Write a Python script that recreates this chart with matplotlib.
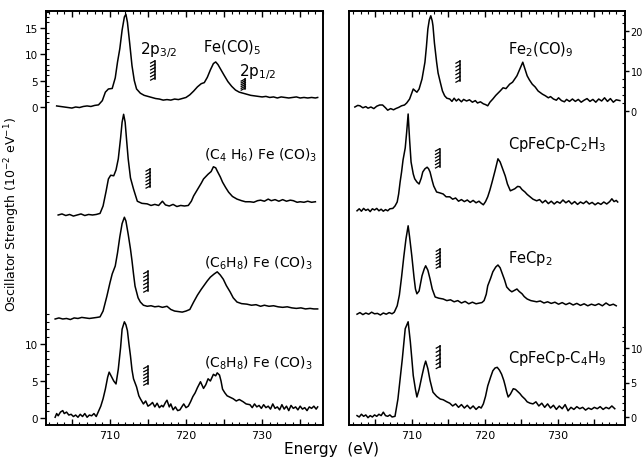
import numpy as np
import matplotlib
matplotlib.use("Agg")
import matplotlib.pyplot as plt

plt.rcParams['font.family'] = ['DejaVu Sans']
plt.rcParams['mathtext.default'] = 'regular'

# ---- spectra (energy in eV, oscillator strength in 1e-2/eV)
feco5_e = [703.0, 703.5, 704.0, 704.5, 705.0, 705.5, 706.0, 706.5, 707.0, 707.5, 708.0, 708.5, 709.0, 709.4,
           709.8, 710.3, 710.7, 711.0, 711.3, 711.6, 711.9, 712.1, 712.3, 712.6, 712.9, 713.2, 713.5, 714.0,
           714.5, 715.0, 715.5, 716.0, 716.5, 717.0, 717.5, 718.0, 718.5, 719.0, 719.5, 720.0, 720.5, 721.0,
           721.5, 722.0, 722.4, 722.8, 723.2, 723.6, 723.9, 724.2, 724.6, 725.0, 725.5, 726.0, 726.5, 727.0,
           727.5, 728.0, 728.5, 729.0, 729.5, 730.0, 730.5, 731.0, 731.5, 732.0, 732.5, 733.0, 733.5, 734.0,
           734.5, 735.0, 735.5, 736.0, 736.5, 737.0, 737.3]
feco5_v = [0.2, 0.1, 0.0, -0.1, -0.2, 0.0, -0.1, 0.1, 0.2, 0.1, 0.3, 0.4, 1.2, 2.8,
           3.4, 3.5, 5.5, 8.5, 11.0, 14.5, 17.0, 17.5, 16.0, 12.0, 7.8, 5.0, 3.4, 2.6,
           2.2, 2.0, 1.8, 1.6, 1.5, 1.3, 1.4, 1.3, 1.5, 1.4, 1.6, 1.8, 2.3, 3.0,
           3.8, 4.4, 4.6, 5.6, 7.0, 8.2, 8.5, 8.0, 7.0, 6.0, 4.8, 3.9, 3.2, 2.8,
           2.6, 2.4, 2.2, 2.1, 2.0, 1.9, 2.0, 1.8, 1.9, 1.7, 1.9, 1.8, 1.7, 1.8,
           1.9, 1.7, 1.8, 1.7, 1.8, 1.7, 1.8]

c4h6_e = [703.2, 703.7, 704.2, 704.7, 705.2, 705.7, 706.2, 706.7, 707.2, 707.7, 708.2, 708.7, 709.1, 709.5,
          709.8, 710.1, 710.5, 710.8, 711.1, 711.4, 711.6, 711.8, 712.0, 712.2, 712.4, 712.7, 713.1, 713.6,
          714.2, 714.9, 715.4, 715.9, 716.4, 716.9, 717.3, 717.8, 718.3, 718.8, 719.3, 719.8, 720.3, 720.7,
          721.0, 721.5, 722.0, 722.3, 722.9, 723.3, 723.6, 723.9, 724.1, 724.5, 724.8, 725.2, 725.6, 726.1,
          726.7, 727.3, 727.8, 728.4, 728.9, 729.4, 729.8, 730.3, 730.8, 731.2, 731.7, 732.2, 732.7, 733.2,
          733.7, 734.1, 734.6, 735.0, 735.5, 736.0, 736.5, 737.0]
c4h6_v = [0.0, 0.2, -0.1, 0.1, -0.2, 0.0, 0.2, -0.1, 0.1, 0.0, 0.1, 0.3, 1.7, 4.5,
          6.8, 7.5, 7.4, 8.5, 10.6, 14.5, 17.5, 19.0, 17.5, 14.0, 10.6, 7.0, 4.9, 2.6,
          2.2, 2.1, 1.8, 2.0, 1.8, 2.6, 1.9, 1.7, 2.0, 1.6, 1.8, 1.7, 1.8, 2.6,
          3.6, 4.8, 6.0, 6.8, 7.7, 8.2, 9.1, 8.9, 8.3, 7.2, 6.2, 5.2, 4.3, 3.5,
          3.0, 2.7, 2.5, 2.5, 2.4, 2.7, 2.8, 2.6, 3.0, 2.7, 2.9, 2.6, 2.9, 2.6,
          2.8, 2.7, 2.4, 2.5, 2.4, 2.6, 2.4, 2.5]

c6h8_e = [702.8, 703.3, 703.8, 704.3, 704.8, 705.3, 705.8, 706.3, 706.8, 707.3, 707.8, 708.3, 708.7, 709.1,
          709.6, 710.0, 710.3, 710.7, 711.0, 711.3, 711.6, 711.9, 712.1, 712.4, 712.7, 712.9, 713.1, 713.3,
          713.7, 714.0, 714.4, 714.9, 715.4, 715.9, 716.4, 716.9, 717.5, 718.0, 718.5, 719.0, 719.5, 720.0,
          720.5, 721.0, 721.5, 722.0, 722.3, 722.8, 723.2, 723.7, 724.1, 724.5, 724.9, 725.3, 725.8, 726.2,
          726.7, 727.3, 728.0, 728.6, 729.2, 729.8, 730.3, 730.9, 731.5, 732.1, 732.7, 733.3, 733.9, 734.5,
          735.1, 735.7, 736.3, 736.8, 737.3]
c6h8_v = [0.0, 0.2, 0.0, 0.1, -0.1, 0.2, 0.1, 0.3, 0.2, 0.1, 0.2, 0.3, 0.4, 1.5,
          4.3, 6.8, 8.5, 10.0, 12.5, 15.5, 18.0, 19.2, 18.5, 16.0, 13.2, 11.0, 8.5, 6.2,
          4.0, 3.2, 2.6, 2.4, 2.5, 2.3, 2.4, 2.2, 2.4, 1.8, 1.5, 1.4, 1.3, 1.5,
          1.8, 3.2, 4.5, 5.6, 6.2, 7.2, 7.9, 8.5, 8.9, 8.3, 7.5, 6.3, 5.1, 4.0,
          3.2, 2.9, 2.8, 2.6, 2.7, 2.4, 2.6, 2.4, 2.5, 2.3, 2.2, 2.3, 2.1, 2.0,
          2.1, 1.9, 2.0, 1.9, 1.9]

c8h8_e = [702.8, 703.0, 703.2, 703.5, 703.8, 704.0, 704.3, 704.6, 704.9, 705.2, 705.5, 705.8, 706.1, 706.4,
          706.7, 707.0, 707.3, 707.6, 707.9, 708.2, 708.5, 708.8, 709.1, 709.4, 709.7, 709.9, 710.2, 710.5,
          710.8, 711.1, 711.4, 711.6, 711.9, 712.1, 712.3, 712.5, 712.7, 712.9, 713.1, 713.5, 713.8, 714.0,
          714.4, 714.7, 715.0, 715.3, 715.6, 715.9, 716.2, 716.5, 716.8, 717.0, 717.3, 717.5, 717.8, 718.0,
          718.3, 718.6, 718.9, 719.2, 719.5, 719.7, 720.0, 720.3, 720.6, 720.9, 721.2, 721.5, 721.9, 722.3,
          722.6, 722.9, 723.2, 723.6, 723.9, 724.1, 724.4, 724.6, 724.8, 725.1, 725.4, 725.8, 726.2, 726.6,
          727.0, 727.5, 727.9, 728.4, 728.7, 729.0, 729.3, 729.6, 729.9, 730.2, 730.5, 730.8, 731.1, 731.4,
          731.7, 732.0, 732.3, 732.6, 732.9, 733.2, 733.5, 733.8, 734.1, 734.4, 734.7, 735.0, 735.3, 735.6,
          735.9, 736.2, 736.5, 736.8, 737.1, 737.3]
c8h8_v = [0.1, 0.6, 0.3, 0.8, 1.0, 0.6, 0.8, 0.4, 0.5, 0.2, 0.4, 0.1, 0.5, 0.2,
          0.6, 0.1, 0.4, 0.3, 0.6, 0.2, 0.9, 1.6, 2.6, 3.9, 5.5, 6.2, 5.6, 5.0,
          4.6, 6.6, 9.5, 12.0, 13.0, 12.6, 11.8, 10.0, 8.4, 6.5, 5.3, 4.2, 3.0, 2.6,
          1.9, 2.3, 1.6, 1.8, 2.1, 1.5, 2.0, 1.4, 1.7, 1.5, 2.1, 2.4, 1.5, 1.9,
          1.1, 1.5, 1.0, 1.1, 1.6, 1.9, 1.4, 1.6, 2.2, 2.9, 3.4, 4.1, 4.9, 4.0,
          4.5, 5.3, 5.0, 5.9, 5.7, 6.1, 5.8, 5.0, 3.9, 3.4, 3.0, 2.8, 2.6, 2.3,
          2.5, 2.2, 1.9, 1.8, 1.4, 1.9, 1.5, 1.7, 1.3, 1.8, 1.4, 1.6, 1.2, 1.9,
          1.3, 1.5, 1.1, 1.8, 1.2, 1.6, 1.0, 1.7, 1.3, 1.5, 1.1, 1.6, 1.2, 1.4,
          1.0, 1.5, 1.3, 1.6, 1.2, 1.5]

fe2co9_e = [702.2, 702.6, 702.9, 703.3, 703.7, 704.0, 704.4, 704.8, 705.2, 705.6, 706.0, 706.4, 706.7, 707.1,
            707.5, 707.8, 708.2, 708.6, 709.0, 709.3, 709.7, 710.0, 710.2, 710.5, 710.7, 711.0, 711.4, 711.8,
            712.0, 712.2, 712.4, 712.6, 712.8, 712.9, 713.1, 713.4, 713.6, 713.9, 714.2, 714.5, 714.8, 715.2,
            715.5, 715.8, 716.1, 716.4, 716.8, 717.1, 717.5, 717.9, 718.3, 718.7, 719.0, 719.4, 719.8, 720.1,
            720.4, 720.7, 721.1, 721.5, 722.1, 722.5, 722.9, 723.4, 723.8, 724.1, 724.4, 724.8, 725.2, 725.5,
            725.8, 726.1, 726.5, 726.9, 727.3, 727.6, 727.9, 728.3, 728.7, 729.0, 729.4, 729.8, 730.1, 730.5,
            730.9, 731.2, 731.6, 732.0, 732.4, 732.8, 733.2, 733.6, 734.0, 734.4, 734.8, 735.2, 735.6, 736.0,
            736.4, 736.8, 737.2, 737.6, 738.0, 738.5]
fe2co9_v = [1.0, 1.4, 1.3, 0.8, 1.1, 0.7, 1.0, 0.6, 1.2, 1.5, 1.5, 0.8, 0.2, 0.6,
            0.3, 0.6, 0.9, 1.3, 1.5, 2.0, 3.0, 4.5, 5.5, 5.0, 4.7, 5.5, 8.0, 12.2,
            16.0, 20.5, 22.8, 23.8, 22.5, 21.3, 17.0, 12.2, 9.5, 7.2, 5.0, 3.8, 3.2, 3.0,
            2.4, 3.2, 2.5, 3.0, 2.3, 2.9, 2.5, 2.8, 2.2, 2.6, 2.0, 2.3, 1.8, 1.6,
            1.3, 2.2, 3.0, 3.9, 5.0, 5.8, 5.6, 6.7, 7.2, 8.0, 8.8, 10.5, 12.2, 10.5,
            8.8, 7.8, 6.7, 6.0, 5.0, 4.6, 4.2, 3.8, 3.3, 3.6, 3.0, 2.7, 3.3, 2.6,
            2.3, 2.9, 2.4, 3.0, 2.4, 2.9, 2.2, 2.7, 3.1, 2.4, 2.9, 2.2, 3.0, 2.5,
            3.3, 2.4, 3.1, 2.2, 2.8, 2.6]

c2h3_e = [702.5, 702.8, 703.1, 703.4, 703.7, 704.0, 704.3, 704.6, 704.9, 705.2, 705.5, 705.8, 706.1, 706.4,
          706.7, 707.0, 707.4, 707.7, 708.0, 708.2, 708.4, 708.6, 708.8, 709.1, 709.3, 709.5, 709.7, 709.9,
          710.2, 710.4, 710.7, 711.0, 711.3, 711.5, 711.8, 712.1, 712.3, 712.5, 712.8, 713.0, 713.4, 713.8,
          714.3, 714.7, 715.2, 715.6, 716.0, 716.4, 716.8, 717.2, 717.6, 718.0, 718.4, 718.8, 719.2, 719.5,
          719.8, 720.1, 720.4, 720.7, 721.0, 721.4, 721.8, 722.1, 722.3, 722.8, 723.1, 723.5, 724.1, 724.5,
          724.8, 725.1, 725.5, 725.8, 726.2, 726.6, 727.1, 727.5, 727.9, 728.3, 728.7, 729.1, 729.5, 729.9,
          730.3, 730.7, 731.1, 731.5, 731.9, 732.3, 732.7, 733.1, 733.5, 733.9, 734.3, 734.7, 735.1, 735.5,
          735.9, 736.3, 736.7, 737.1, 737.4, 737.7, 738.0, 738.2]
c2h3_v = [0.3, 0.8, 0.2, 0.9, 0.4, 0.7, 0.1, 0.8, 0.5, 0.9, 0.3, 0.7, 0.2, 0.6,
          0.3, 0.8, 0.9, 1.5, 2.5, 4.5, 7.5, 10.0, 13.0, 16.0, 20.0, 24.5, 18.0, 12.5,
          9.5, 8.3, 7.5, 7.0, 8.5, 10.0, 10.8, 11.2, 10.8, 10.0, 7.8, 6.5, 5.0, 4.8,
          4.5, 3.8, 3.8, 3.2, 3.5, 2.7, 3.1, 2.6, 3.0, 2.4, 2.9, 2.3, 2.7, 2.2,
          1.8, 2.6, 3.8, 5.5, 7.5, 10.3, 13.3, 12.5, 11.5, 9.0, 7.0, 5.3, 5.8, 6.4,
          6.3, 5.6, 5.0, 4.4, 3.8, 3.2, 2.8, 3.1, 2.3, 2.9, 2.1, 2.7, 2.0, 2.6,
          2.2, 3.0, 2.3, 2.8, 2.0, 2.6, 1.9, 2.5, 2.1, 2.7, 2.0, 2.4, 1.8, 2.3,
          1.9, 2.5, 2.0, 2.6, 3.3, 2.6, 2.9, 2.5]

fecp2_e = [702.5, 702.9, 703.3, 703.7, 704.1, 704.5, 704.9, 705.3, 705.7, 706.1, 706.5, 706.9, 707.3, 707.6,
           708.0, 708.3, 708.6, 708.9, 709.2, 709.5, 709.7, 710.0, 710.3, 710.5, 710.7, 711.0, 711.4, 711.7,
           711.9, 712.2, 712.5, 712.8, 713.2, 713.7, 714.3, 714.8, 715.3, 715.8, 716.3, 716.8, 717.3, 717.8,
           718.3, 718.8, 719.3, 719.6, 719.9, 720.2, 720.4, 720.8, 721.1, 721.5, 721.8, 722.1, 722.3, 722.7,
           723.0, 723.4, 723.7, 724.1, 724.4, 724.7, 725.1, 725.4, 725.8, 726.3, 727.1, 727.6, 728.1, 728.6,
           729.1, 729.6, 730.1, 730.6, 731.1, 731.6, 732.1, 732.6, 733.1, 733.6, 734.1, 734.6, 735.1, 735.6,
           736.1, 736.6, 737.1, 737.6, 738.0]
fecp2_v = [0.2, 0.6, 0.1, 0.5, 0.2, 0.7, 0.3, 0.4, 0.0, 0.5, 0.2, 0.6, 0.3, 0.7,
           2.3, 5.0, 9.5, 14.5, 19.0, 22.3, 19.5, 14.8, 9.5, 6.5, 5.3, 6.0, 9.8, 11.5,
           12.3, 11.2, 9.0, 6.5, 4.5, 4.2, 4.0, 3.6, 3.8, 3.3, 3.6, 3.0, 3.4, 2.8,
           3.2, 2.8, 3.0, 3.1, 3.6, 5.2, 7.3, 9.2, 10.8, 12.0, 12.5, 11.8, 10.8, 8.8,
           7.0, 6.2, 5.8, 6.2, 6.5, 5.9, 5.3, 4.6, 4.0, 3.6, 3.3, 3.5, 3.0, 3.3,
           2.9, 3.2, 2.7, 3.1, 2.6, 3.0, 2.5, 2.9, 2.4, 2.8, 2.3, 2.7, 2.4, 2.8,
           2.3, 3.0, 2.4, 2.7, 2.3]

c4h9_e = [702.5, 702.8, 703.1, 703.4, 703.7, 704.0, 704.3, 704.6, 704.9, 705.2, 705.5, 705.8, 706.1, 706.4,
          706.7, 707.0, 707.3, 707.7, 708.1, 708.4, 708.7, 709.1, 709.5, 709.8, 710.0, 710.2, 710.5, 710.7,
          711.0, 711.4, 711.7, 711.9, 712.2, 712.5, 712.9, 713.4, 713.9, 714.3, 714.8, 715.2, 715.6, 716.0,
          716.4, 716.8, 717.2, 717.6, 718.0, 718.4, 718.8, 719.2, 719.5, 719.8, 720.1, 720.4, 720.8, 721.1,
          721.4, 721.7, 722.0, 722.3, 722.6, 722.8, 723.0, 723.2, 723.5, 723.9, 724.2, 724.4, 724.8, 725.1,
          725.5, 725.8, 726.2, 726.6, 727.0, 727.4, 727.8, 728.2, 728.6, 729.0, 729.4, 729.8, 730.2, 730.6,
          731.0, 731.4, 731.8, 732.2, 732.6, 733.0, 733.4, 733.8, 734.2, 734.6, 735.0, 735.4, 735.8, 736.2,
          736.6, 737.0, 737.4, 737.8]
c4h9_v = [0.2, 0.0, 0.4, 0.1, 0.3, -0.1, 0.2, 0.0, 0.3, 0.1, 0.4, 0.2, 0.7, 0.2,
          0.1, 0.3, 0.0, 0.1, 2.6, 5.5, 8.4, 12.8, 13.8, 10.9, 8.5, 6.0, 4.0, 2.9,
          4.0, 6.0, 7.4, 8.1, 7.0, 5.3, 3.6, 3.0, 2.6, 2.5, 2.2, 2.0, 1.6, 1.9,
          1.4, 1.8, 1.3, 1.7, 1.2, 1.6, 1.1, 1.5, 1.3, 1.9, 3.0, 4.5, 5.8, 6.7,
          7.1, 7.2, 6.8, 6.2, 5.3, 4.5, 3.6, 2.9, 3.3, 4.1, 4.0, 3.8, 3.4, 3.0,
          2.6, 2.2, 2.0, 1.9, 2.2, 1.6, 2.0, 1.4, 1.9, 1.3, 1.7, 1.1, 1.6, 1.2,
          1.8, 0.9, 1.4, 1.1, 1.5, 1.2, 1.4, 1.0, 1.3, 1.1, 1.4, 1.2, 1.5, 1.1,
          1.4, 1.2, 1.6, 1.2]

# labels and threshold markers (energy, low, high in spectrum units)
left_names = [r'Fe(CO)$_5$', r'(C$_4$ H$_6$) Fe (CO)$_3$', r'(C$_6$H$_8$) Fe (CO)$_3$', r'(C$_8$H$_8$) Fe (CO)$_3$']
right_names = [r'Fe$_2$(CO)$_9$', r'CpFeCp-C$_2$H$_3$', r'FeCp$_2$', r'CpFeCp-C$_4$H$_9$']
left_marks = [(715.9, 5.3, 8.7), (715.3, 5.3, 8.7), (715.0, 5.3, 9.0), (715.0, 4.6, 7.0)]
right_marks = [(716.6, 7.5, 12.5), (713.8, 11.3, 15.8), (713.9, 12.0, 16.5), (713.9, 7.2, 10.3)]
extra_mark = (727.8, 3.4, 5.3)  # 2p1/2 of Fe(CO)5

# layout: baseline offsets and vertical scale of each trace in the stacked axes
left_off = [318, 210, 106, 7]
left_scale = [5.3, 5.3, 5.3, 7.4]
right_off = [314, 213, 110, 8]
right_scale = [4.0, 4.0, 4.0, 6.9]
left_lab_y = [378, 271, 163, 63]
right_lab_y = [376, 281, 168, 67]


def draw_mark(ax, e0, lo, hi, off, sc):
    y0 = off + sc * lo
    y1 = off + sc * hi
    ax.plot([e0, e0], [y0, y1], color='black', lw=1.1)
    for y in np.linspace(y0 + 1, y1, 6):
        ax.plot([e0, e0 - 0.55], [y, y - 2.2], color='black', lw=0.9)


fig = plt.figure(figsize=(6.44, 4.6), dpi=100)
axL = fig.add_axes([46 / 644, 1 - 426 / 460, 277 / 644, 414 / 460])
axR = fig.add_axes([349 / 644, 1 - 426 / 460, 276 / 644, 414 / 460])

left_data = [(feco5_e, feco5_v), (c4h6_e, c4h6_v), (c6h8_e, c6h8_v), (c8h8_e, c8h8_v)]
right_data = [(fe2co9_e, fe2co9_v), (c2h3_e, c2h3_v), (fecp2_e, fecp2_v), (c4h9_e, c4h9_v)]

for i in range(4):
    e, v = left_data[i]
    axL.plot(e, left_off[i] + left_scale[i] * np.array(v), color='black', lw=1.1)
    draw_mark(axL, left_marks[i][0], left_marks[i][1], left_marks[i][2], left_off[i], left_scale[i])
    e, v = right_data[i]
    axR.plot(e, right_off[i] + right_scale[i] * np.array(v), color='black', lw=1.1)
    draw_mark(axR, right_marks[i][0], right_marks[i][1], right_marks[i][2], right_off[i], right_scale[i])
draw_mark(axL, extra_mark[0], extra_mark[1], extra_mark[2], left_off[0], left_scale[0])

# names
axL.text(722.2, left_lab_y[0], left_names[0], fontsize=10.5, va='center', ha='left')
for i in range(1, 4):
    axL.text(722.3, left_lab_y[i], left_names[i], fontsize=10, va='center', ha='left')
for i in range(4):
    axR.text(723.2, right_lab_y[i], right_names[i], fontsize=10.5, va='center', ha='left')
axL.text(714.0, 376, r'2p$_{3/2}$', fontsize=11, va='center', ha='left')
axL.text(726.9, 354, r'2p$_{1/2}$', fontsize=11, va='center', ha='left')

# axes styling
axL.set_xlim(701.6, 738.0)
axR.set_xlim(701.4, 739.2)
for ax in (axL, axR):
    ax.set_ylim(0, 414)
    for s in ax.spines.values():
        s.set_linewidth(1.4)
    ax.set_xticks([705, 710, 715, 720, 725, 730, 735])
    ax.set_xticklabels(['', '710', '', '720', '', '730', ''])
    ax.set_xticks(np.arange(702, 739, 1), minor=True)
    ax.tick_params(axis='x', which='both', direction='in', top=True, bottom=True, labelsize=8)
    ax.tick_params(axis='x', which='major', length=4, width=1)
    ax.tick_params(axis='x', which='minor', length=2, width=0.8)

# left y ticks: top trace and bottom trace scales
lmaj = [left_off[0] + left_scale[0] * k for k in [0, 5, 10, 15]] + [left_off[3] + left_scale[3] * k for k in [0, 5, 10]]
lmin = [left_off[0] + left_scale[0] * k for k in range(0, 19)] + [left_off[3] + left_scale[3] * k for k in range(0, 15)]
axL.set_yticks(lmaj)
axL.set_yticklabels(['0', '5', '10', '15', '0', '5', '10'])
axL.set_yticks(lmin, minor=True)
axL.tick_params(axis='y', which='major', direction='out', length=4, width=1, labelsize=7.5, pad=2,
                left=True, right=False)
axL.tick_params(axis='y', which='minor', direction='in', length=2, width=0.8, left=True, right=False)

rmaj = [right_off[0] + right_scale[0] * k for k in [0, 10, 20]] + [right_off[3] + right_scale[3] * k for k in [0, 5, 10]]
rmin = [right_off[0] + right_scale[0] * k for k in range(0, 26, 2)] + [right_off[3] + right_scale[3] * k for k in range(0, 14)]
axR.set_yticks(rmaj)
axR.set_yticklabels(['0', '10', '20', '0', '5', '10'])
axR.set_yticks(rmin, minor=True)
axR.tick_params(axis='y', which='major', direction='out', length=3, width=1, labelsize=7, pad=1,
                left=False, right=True, labelleft=False, labelright=True)
axR.tick_params(axis='y', which='minor', direction='in', length=2, width=0.8, left=False, right=True)

fig.text(0.019, 0.533, r'Oscillator Strength (10$^{-2}$ eV$^{-1}$)', rotation=90, fontsize=9,
         ha='center', va='center')
fig.text(0.514, 0.022, 'Energy  (eV)', fontsize=11, ha='center', va='center')

fig.savefig('out.png', dpi=100)
